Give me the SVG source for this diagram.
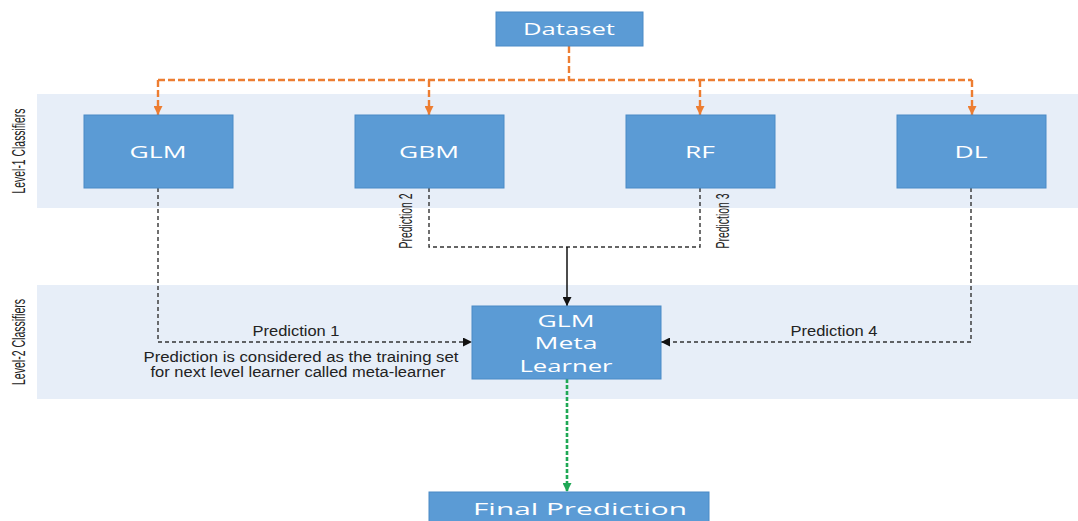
<svg xmlns="http://www.w3.org/2000/svg" width="1078" height="521" viewBox="0 0 1078 521">
  <style>
    .band { fill: #e7eef8; }
    .box { fill: #5b9bd5; stroke: #4a8ac6; stroke-width: 1; }
    .btxt { font-family: "Open Sans", "Noto Sans", sans-serif; font-size: 17px; fill: #ffffff; text-anchor: middle; }
    .lvl { font-family: "Liberation Sans Narrow", "Liberation Sans", sans-serif; font-size: 13px; fill: #222222; text-anchor: middle; }
    .lbl { font-family: "Liberation Sans", Arial, sans-serif; font-size: 14px; fill: #222222; text-anchor: middle; }
    .feed { fill: none; stroke: #ed7d31; stroke-width: 2.4; stroke-dasharray: 7 3; }
    .pred { fill: none; stroke: #333333; stroke-width: 1.4; stroke-dasharray: 4 3; }
    .solid { fill: none; stroke: #111111; stroke-width: 1.5; }
    .final { fill: none; stroke: #1fa855; stroke-width: 2.6; stroke-dasharray: 4 2; }
  </style>
  <defs>
    <marker id="arrOrange" viewBox="0 0 10 10" refX="10" refY="5" markerWidth="9" markerHeight="9" markerUnits="userSpaceOnUse" orient="auto">
      <path d="M0,0 L10,5 L0,10 z" fill="#ed7d31"/>
    </marker>
    <marker id="arrDark" viewBox="0 0 10 10" refX="10" refY="5" markerWidth="9" markerHeight="9" markerUnits="userSpaceOnUse" orient="auto">
      <path d="M0,0 L10,5 L0,10 z" fill="#111111"/>
    </marker>
    <marker id="arrGreen" viewBox="0 0 10 10" refX="10" refY="5" markerWidth="9" markerHeight="9" markerUnits="userSpaceOnUse" orient="auto">
      <path d="M0,0 L10,5 L0,10 z" fill="#1fa855"/>
    </marker>
  </defs>

  <rect width="1078" height="521" fill="#ffffff"/>

  <!-- tier bands -->
  <g id="tier-1">
    <rect class="band" x="37" y="94" width="1041" height="114"/>
    <text class="lvl" transform="translate(25,151) scale(1.45,1) rotate(-90)" textLength="85" lengthAdjust="spacingAndGlyphs">Level-1 Classifiers</text>
  </g>
  <g id="tier-2">
    <rect class="band" x="37" y="285" width="1041" height="114"/>
    <text class="lvl" transform="translate(25,342) scale(1.45,1) rotate(-90)" textLength="86" lengthAdjust="spacingAndGlyphs">Level-2 Classifiers</text>
  </g>

  <!-- connectors -->
  <g id="connectors">
    <path class="feed" d="M569,46 V80"/>
    <path class="feed" d="M158,80 H972"/>
    <path class="feed" d="M158,80 V115" marker-end="url(#arrOrange)"/>
    <path class="feed" d="M429,80 V115" marker-end="url(#arrOrange)"/>
    <path class="feed" d="M700,80 V115" marker-end="url(#arrOrange)"/>
    <path class="feed" d="M972,80 V115" marker-end="url(#arrOrange)"/>

    <path class="pred" d="M158,188 V342 H472" marker-end="url(#arrDark)"/>
    <path class="pred" d="M429,188 V247 H700 V188"/>
    <path class="solid" d="M567,247 V306" marker-end="url(#arrDark)"/>
    <path class="pred" d="M971,188 V342 H661" marker-end="url(#arrDark)"/>
    <path class="final" d="M567,379 V492" marker-end="url(#arrGreen)"/>

    <text class="lbl" x="296" y="336" textLength="87" lengthAdjust="spacingAndGlyphs">Prediction 1</text>
    <text class="lbl" x="834" y="336" textLength="87" lengthAdjust="spacingAndGlyphs">Prediction 4</text>
    <text class="lbl" x="301" y="362" textLength="315" lengthAdjust="spacingAndGlyphs">Prediction is considered as the training set</text>
    <text class="lbl" x="298" y="377" textLength="295" lengthAdjust="spacingAndGlyphs">for next level learner called meta-learner</text>
    <text class="lvl" transform="translate(411.5,221) scale(1.45,1) rotate(-90)" textLength="55" lengthAdjust="spacingAndGlyphs">Prediction 2</text>
    <text class="lvl" transform="translate(729,221) scale(1.45,1) rotate(-90)" textLength="55" lengthAdjust="spacingAndGlyphs">Prediction 3</text>
  </g>

  <!-- nodes -->
  <g id="dataset">
    <rect class="box" x="496" y="12" width="147" height="34"/>
    <text class="btxt" x="569" y="35" textLength="92" lengthAdjust="spacingAndGlyphs">Dataset</text>
  </g>
  <g id="glm">
    <rect class="box" x="84" y="115" width="149" height="73"/>
    <text class="btxt" x="158" y="158" textLength="57" lengthAdjust="spacingAndGlyphs">GLM</text>
  </g>
  <g id="gbm">
    <rect class="box" x="355" y="115" width="149" height="73"/>
    <text class="btxt" x="429" y="158" textLength="60" lengthAdjust="spacingAndGlyphs">GBM</text>
  </g>
  <g id="rf">
    <rect class="box" x="626" y="115" width="149" height="73"/>
    <text class="btxt" x="700" y="158" textLength="30" lengthAdjust="spacingAndGlyphs">RF</text>
  </g>
  <g id="dl">
    <rect class="box" x="897" y="115" width="149" height="73"/>
    <text class="btxt" x="971" y="158" textLength="33" lengthAdjust="spacingAndGlyphs">DL</text>
  </g>
  <g id="meta-learner">
    <rect class="box" x="472" y="306" width="189" height="73"/>
    <text class="btxt" x="566" y="327" textLength="57" lengthAdjust="spacingAndGlyphs">GLM</text>
    <text class="btxt" x="566" y="349" textLength="63" lengthAdjust="spacingAndGlyphs">Meta</text>
    <text class="btxt" x="566" y="372" textLength="93" lengthAdjust="spacingAndGlyphs">Learner</text>
  </g>
  <g id="final-prediction">
    <rect class="box" x="429" y="492" width="280" height="40"/>
    <text class="btxt" x="580" y="515" textLength="214" lengthAdjust="spacingAndGlyphs">Final Prediction</text>
  </g>
</svg>
